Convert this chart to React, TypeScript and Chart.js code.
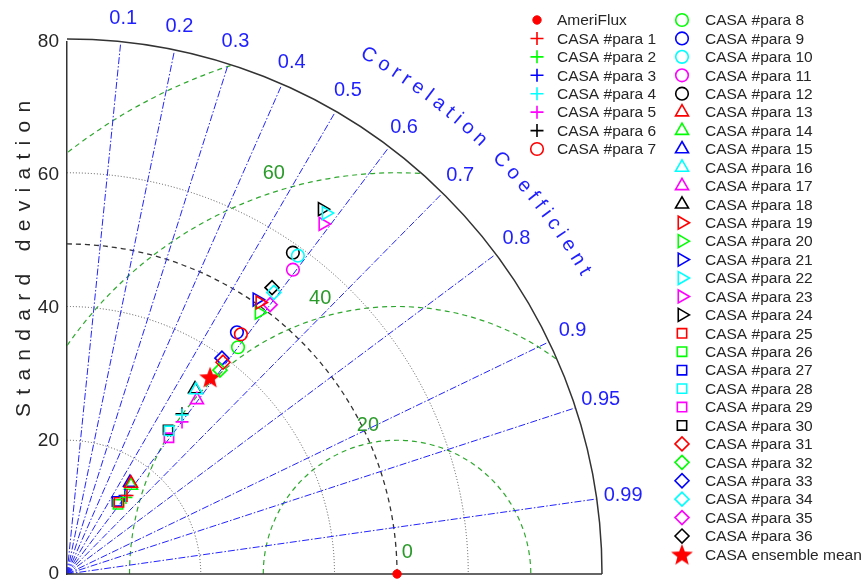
import React, { useEffect, useRef } from 'react';
import { Chart, registerables } from 'chart.js';
import { drawPoint } from 'chart.js/helpers';

Chart.register(...registerables);

// ---------------- data ----------------
const refName = 'AmeriFlux';
const refStd = 49.35;

const paraLabels = [
  'CASA #para 1', 'CASA #para 2', 'CASA #para 3', 'CASA #para 4', 'CASA #para 5', 'CASA #para 6',
  'CASA #para 7', 'CASA #para 8', 'CASA #para 9', 'CASA #para 10', 'CASA #para 11', 'CASA #para 12',
  'CASA #para 13', 'CASA #para 14', 'CASA #para 15', 'CASA #para 16', 'CASA #para 17', 'CASA #para 18',
  'CASA #para 19', 'CASA #para 20', 'CASA #para 21', 'CASA #para 22', 'CASA #para 23', 'CASA #para 24',
  'CASA #para 25', 'CASA #para 26', 'CASA #para 27', 'CASA #para 28', 'CASA #para 29', 'CASA #para 30',
  'CASA #para 31', 'CASA #para 32', 'CASA #para 33', 'CASA #para 34', 'CASA #para 35', 'CASA #para 36',
];

const paraStd = [
  14.83, 14.5, 14.65, 29.46, 28.62, 29.59,
  44.45, 42.62, 44.35, 59.02, 56.88, 58.95,
  16.64, 16.39, 16.67, 33.72, 32.6, 33.76,
  49.99, 48.69, 50.1, 66.68, 65.08, 66.83,
  13.28, 12.95, 13.23, 26.39, 25.54, 26.42,
  39.48, 38.25, 39.88, 52.43, 50.63, 52.86,
];

const paraCorr = [
  0.605, 0.608, 0.592, 0.584, 0.601, 0.581,
  0.585, 0.6, 0.573, 0.585, 0.594, 0.573,
  0.575, 0.584, 0.565, 0.572, 0.596, 0.567,
  0.577, 0.59, 0.567, 0.581, 0.588, 0.571,
  0.585, 0.589, 0.565, 0.578, 0.597, 0.572,
  0.591, 0.598, 0.581, 0.59, 0.6, 0.58,
];

const ensembleLabel = 'CASA ensemble mean';
const ensembleStd = 36.52;
const ensembleCorr = 0.586;

const stdAxisTicks = [0, 20, 40, 60, 80];
const stdArcs = [20, 40, 60];
const corrTicks = [0.1, 0.2, 0.3, 0.4, 0.5, 0.6, 0.7, 0.8, 0.9, 0.95, 0.99];
const corrTickLabels = ['0.1', '0.2', '0.3', '0.4', '0.5', '0.6', '0.7', '0.8', '0.9', '0.95', '0.99'];
const rmsArcs = [20, 40, 60, 80];
const rmsLabels = ['0', '20', '40', '60'];

const seriesColors = ['#ff0000', '#00ff00', '#0000ff', '#00ffff', '#ff00ff', '#000000'];
const markerTypes = ['cross', 'circle', 'triangle', 'triangleRight', 'rect', 'rectRot'];

// ---------------- helpers ----------------
const FONT = '"Liberation Sans", Arial, sans-serif';
const MAX_STD = 80;

function toXY(std: number, corr: number) {
  return { x: std * corr, y: std * Math.sqrt(Math.max(0, 1 - corr * corr)) };
}

function makeStar(size: number, color: string) {
  const c = document.createElement('canvas');
  c.width = size;
  c.height = size;
  const g = c.getContext('2d')!;
  const cx = size / 2, cy = size / 2 + 1;
  const R = size / 2 - 0.5, r = R * 0.42;
  g.beginPath();
  for (let i = 0; i < 10; i++) {
    const a = -Math.PI / 2 + (i * Math.PI) / 5;
    const rr = i % 2 === 0 ? R : r;
    const px = cx + rr * Math.cos(a), py = cy + rr * Math.sin(a);
    if (i === 0) g.moveTo(px, py); else g.lineTo(px, py);
  }
  g.closePath();
  g.fillStyle = color;
  g.fill();
  return c;
}

function markerProps(type: string) {
  switch (type) {
    case 'cross': return { pointStyle: 'cross', rotation: 0, radius: 6.5 };
    case 'circle': return { pointStyle: 'circle', rotation: 0, radius: 6.3 };
    case 'triangle': return { pointStyle: 'triangle', rotation: 0, radius: 7.5 };
    case 'triangleRight': return { pointStyle: 'triangle', rotation: 90, radius: 7.5 };
    case 'rect': return { pointStyle: 'rect', rotation: 0, radius: 6.6 };
    case 'rectRot': return { pointStyle: 'rectRot', rotation: 0, radius: 7 };
  }
  return { pointStyle: 'circle', rotation: 0, radius: 5 };
}

const taylorGrid = {
  id: 'taylorGrid',
  beforeDatasetsDraw(chart: any) {
    const ctx: CanvasRenderingContext2D = chart.ctx;
    const xs = chart.scales.x, ys = chart.scales.y;
    const ox = xs.getPixelForValue(0), oy = ys.getPixelForValue(0);
    const k = xs.getPixelForValue(1) - ox;
    const P = (r: number, ang: number) => [
      xs.getPixelForValue(r * Math.cos(ang)),
      ys.getPixelForValue(r * Math.sin(ang)),
    ];
    ctx.save();

    // clip to quarter disk
    ctx.save();
    ctx.beginPath();
    ctx.moveTo(ox, oy);
    ctx.arc(ox, oy, MAX_STD * k, -Math.PI / 2, 0);
    ctx.closePath();
    ctx.clip();

    // RMS arcs (green dashed) around reference
    const refPx = xs.getPixelForValue(refStd);
    ctx.strokeStyle = '#2fa82f';
    ctx.lineWidth = 1.2;
    ctx.setLineDash([5, 4]);
    rmsArcs.forEach((r) => {
      ctx.beginPath();
      ctx.arc(refPx, oy, r * k, Math.PI, 2 * Math.PI);
      ctx.stroke();
    });

    // std dotted arcs
    ctx.strokeStyle = '#555555';
    ctx.lineWidth = 1;
    ctx.setLineDash([1, 2]);
    stdArcs.forEach((r) => {
      ctx.beginPath();
      ctx.arc(ox, oy, r * k, -Math.PI / 2, 0);
      ctx.stroke();
    });

    // reference std dashed arc
    ctx.strokeStyle = '#333333';
    ctx.lineWidth = 1.3;
    ctx.setLineDash([5, 4]);
    ctx.beginPath();
    ctx.arc(ox, oy, refStd * k, -Math.PI / 2, 0);
    ctx.stroke();

    // correlation lines
    ctx.strokeStyle = '#2323ff';
    ctx.lineWidth = 1;
    ctx.setLineDash([7, 2, 1.5, 2]);
    corrTicks.forEach((c) => {
      const a = Math.acos(c);
      const [ex, ey] = P(MAX_STD, a);
      ctx.beginPath();
      ctx.moveTo(ox, oy);
      ctx.lineTo(ex, ey);
      ctx.stroke();
    });
    ctx.restore();

    // outer arc + x axis
    ctx.setLineDash([]);
    ctx.strokeStyle = '#333333';
    ctx.lineWidth = 1.5;
    ctx.beginPath();
    ctx.arc(ox, oy, MAX_STD * k, -Math.PI / 2, 0);
    ctx.stroke();
    ctx.beginPath();
    ctx.moveTo(ox, oy);
    ctx.lineTo(xs.getPixelForValue(MAX_STD), oy);
    ctx.stroke();

    // correlation labels
    ctx.fillStyle = '#1f1fff';
    ctx.font = `20px ${FONT}`;
    ctx.textAlign = 'center';
    ctx.textBaseline = 'middle';
    corrTicks.forEach((c, i) => {
      const a = Math.acos(c);
      const [lx, ly] = P(84, a);
      ctx.fillText(corrTickLabels[i], lx, ly);
    });

    // curved title "Correlation Coefficient"
    const title = 'Correlation Coefficient';
    const spacing = 5.5;
    const R = 89.7 * k;
    const widths = title.split('').map((ch) => ctx.measureText(ch).width);
    let total = 0;
    widths.forEach((w, i) => { total += w + (i < widths.length - 1 ? spacing : 0); });
    const centerAng = (45.3 * Math.PI) / 180;
    let s = -total / 2;
    title.split('').forEach((ch, i) => {
      const mid = s + widths[i] / 2;
      const ang = centerAng - mid / R;
      const px = ox + R * Math.cos(ang), py = oy - R * Math.sin(ang);
      ctx.save();
      ctx.translate(px, py);
      ctx.rotate(Math.PI / 2 - ang);
      ctx.fillText(ch, 0, 0);
      ctx.restore();
      s += widths[i] + spacing;
    });

    // RMS labels
    ctx.fillStyle = '#2a9a2a';
    ctx.font = `20px ${FONT}`;
    const rmsLabelPos = [[3.6, 65], [22.8, 101], [43, 105.5], [63, 107]];
    rmsLabels.forEach((t, i) => {
      const [rr, deg] = rmsLabelPos[i];
      const a = (deg * Math.PI) / 180;
      const lx = xs.getPixelForValue(refStd + rr * Math.cos(a));
      const ly = ys.getPixelForValue(rr * Math.sin(a));
      ctx.fillText(t, lx, ly);
    });

    // y-axis title
    ctx.save();
    ctx.fillStyle = '#262626';
    ctx.font = `21px ${FONT}`;
    (ctx as any).letterSpacing = '8.3px';
    ctx.translate(24, ys.getPixelForValue(48));
    ctx.rotate(-Math.PI / 2);
    ctx.textAlign = 'center';
    ctx.textBaseline = 'middle';
    ctx.fillText('Standard deviation', 0, 0);
    ctx.restore();

    ctx.restore();
  },
};

const legendPlugin = {
  id: 'customLegend',
  afterDraw(chart: any) {
    const ctx: CanvasRenderingContext2D = chart.ctx;
    const ds = chart.data.datasets;
    ctx.save();
    ctx.font = `15.5px ${FONT}`;
    ctx.textBaseline = 'middle';
    ctx.textAlign = 'left';
    ds.forEach((d: any, i: number) => {
      const col = i < 8 ? 0 : 1;
      const row = i < 8 ? i : i - 8;
      const y = 20 + row * 18.43;
      const mx = col === 0 ? 537 : 682;
      const tx = col === 0 ? 557 : 705;
      ctx.save();
      ctx.strokeStyle = d.borderColor;
      ctx.fillStyle = d.backgroundColor;
      ctx.lineWidth = d.pointBorderWidth;
      ctx.setLineDash([]);
      drawPoint(ctx, { pointStyle: d.pointStyle, rotation: d.rotation, radius: d.pointRadius, borderWidth: d.pointBorderWidth }, mx, y);
      ctx.restore();
      ctx.fillStyle = '#262626';
      ctx.fillText(d.label, tx, y + 1);
    });
    ctx.restore();
  },
};

export default function App() {
  const ref = useRef<HTMLCanvasElement>(null);
  useEffect(() => {
    document.body.style.margin = '0';
    const star = makeStar(24, '#ff0000');
    const datasets: any[] = [];
    datasets.push({
      label: refName,
      data: [toXY(refStd, 1)],
      pointStyle: 'circle',
      rotation: 0,
      pointRadius: 4.2,
      pointBorderWidth: 1,
      borderColor: '#ff0000',
      backgroundColor: '#ff0000',
      clip: false,
    });
    paraLabels.forEach((lab, i) => {
      const color = seriesColors[i % 6];
      const mp = markerProps(markerTypes[Math.floor(i / 6)]);
      datasets.push({
        label: lab,
        data: [toXY(paraStd[i], paraCorr[i])],
        pointStyle: mp.pointStyle,
        rotation: mp.rotation,
        pointRotation: mp.rotation,
        pointRadius: mp.radius,
        pointBorderWidth: 1.6,
        borderColor: color,
        backgroundColor: 'rgba(0,0,0,0)',
        clip: false,
      });
    });
    datasets.push({
      label: ensembleLabel,
      data: [toXY(ensembleStd, ensembleCorr)],
      pointStyle: star,
      rotation: 0,
      pointRadius: 11,
      pointBorderWidth: 0,
      borderColor: '#ff0000',
      backgroundColor: '#ff0000',
      clip: false,
    });

    const chart = new Chart(ref.current!, {
      type: 'scatter',
      data: { datasets },
      options: {
        responsive: false,
        animation: false,
        layout: { padding: { left: 0, top: 42, right: 266, bottom: 8 } },
        plugins: { legend: { display: false }, tooltip: { enabled: false } },
        scales: {
          x: { type: 'linear', min: 0, max: MAX_STD, display: false },
          y: {
            type: 'linear',
            min: 0,
            max: MAX_STD,
            afterBuildTicks: (s: any) => { s.ticks = stdAxisTicks.map((v) => ({ value: v })); },
            ticks: { font: { size: 19, family: FONT }, color: '#262626', padding: 8 },
            grid: { display: false, drawTicks: false },
            border: { display: true, color: '#333333', width: 1.5 },
            afterFit: (s: any) => {
              s.width = 67;
              s.paddingTop = 0;
              s.paddingBottom = 0;
            },
          },
        },
      },
      plugins: [taylorGrid, legendPlugin],
    } as any);
    return () => chart.destroy();
  }, []);
  return (
    <div style={{ position: 'absolute', left: 0, top: 0, width: 868, height: 585, background: '#fff' }}>
      <canvas ref={ref} width={868} height={585} />
    </div>
  );
}
